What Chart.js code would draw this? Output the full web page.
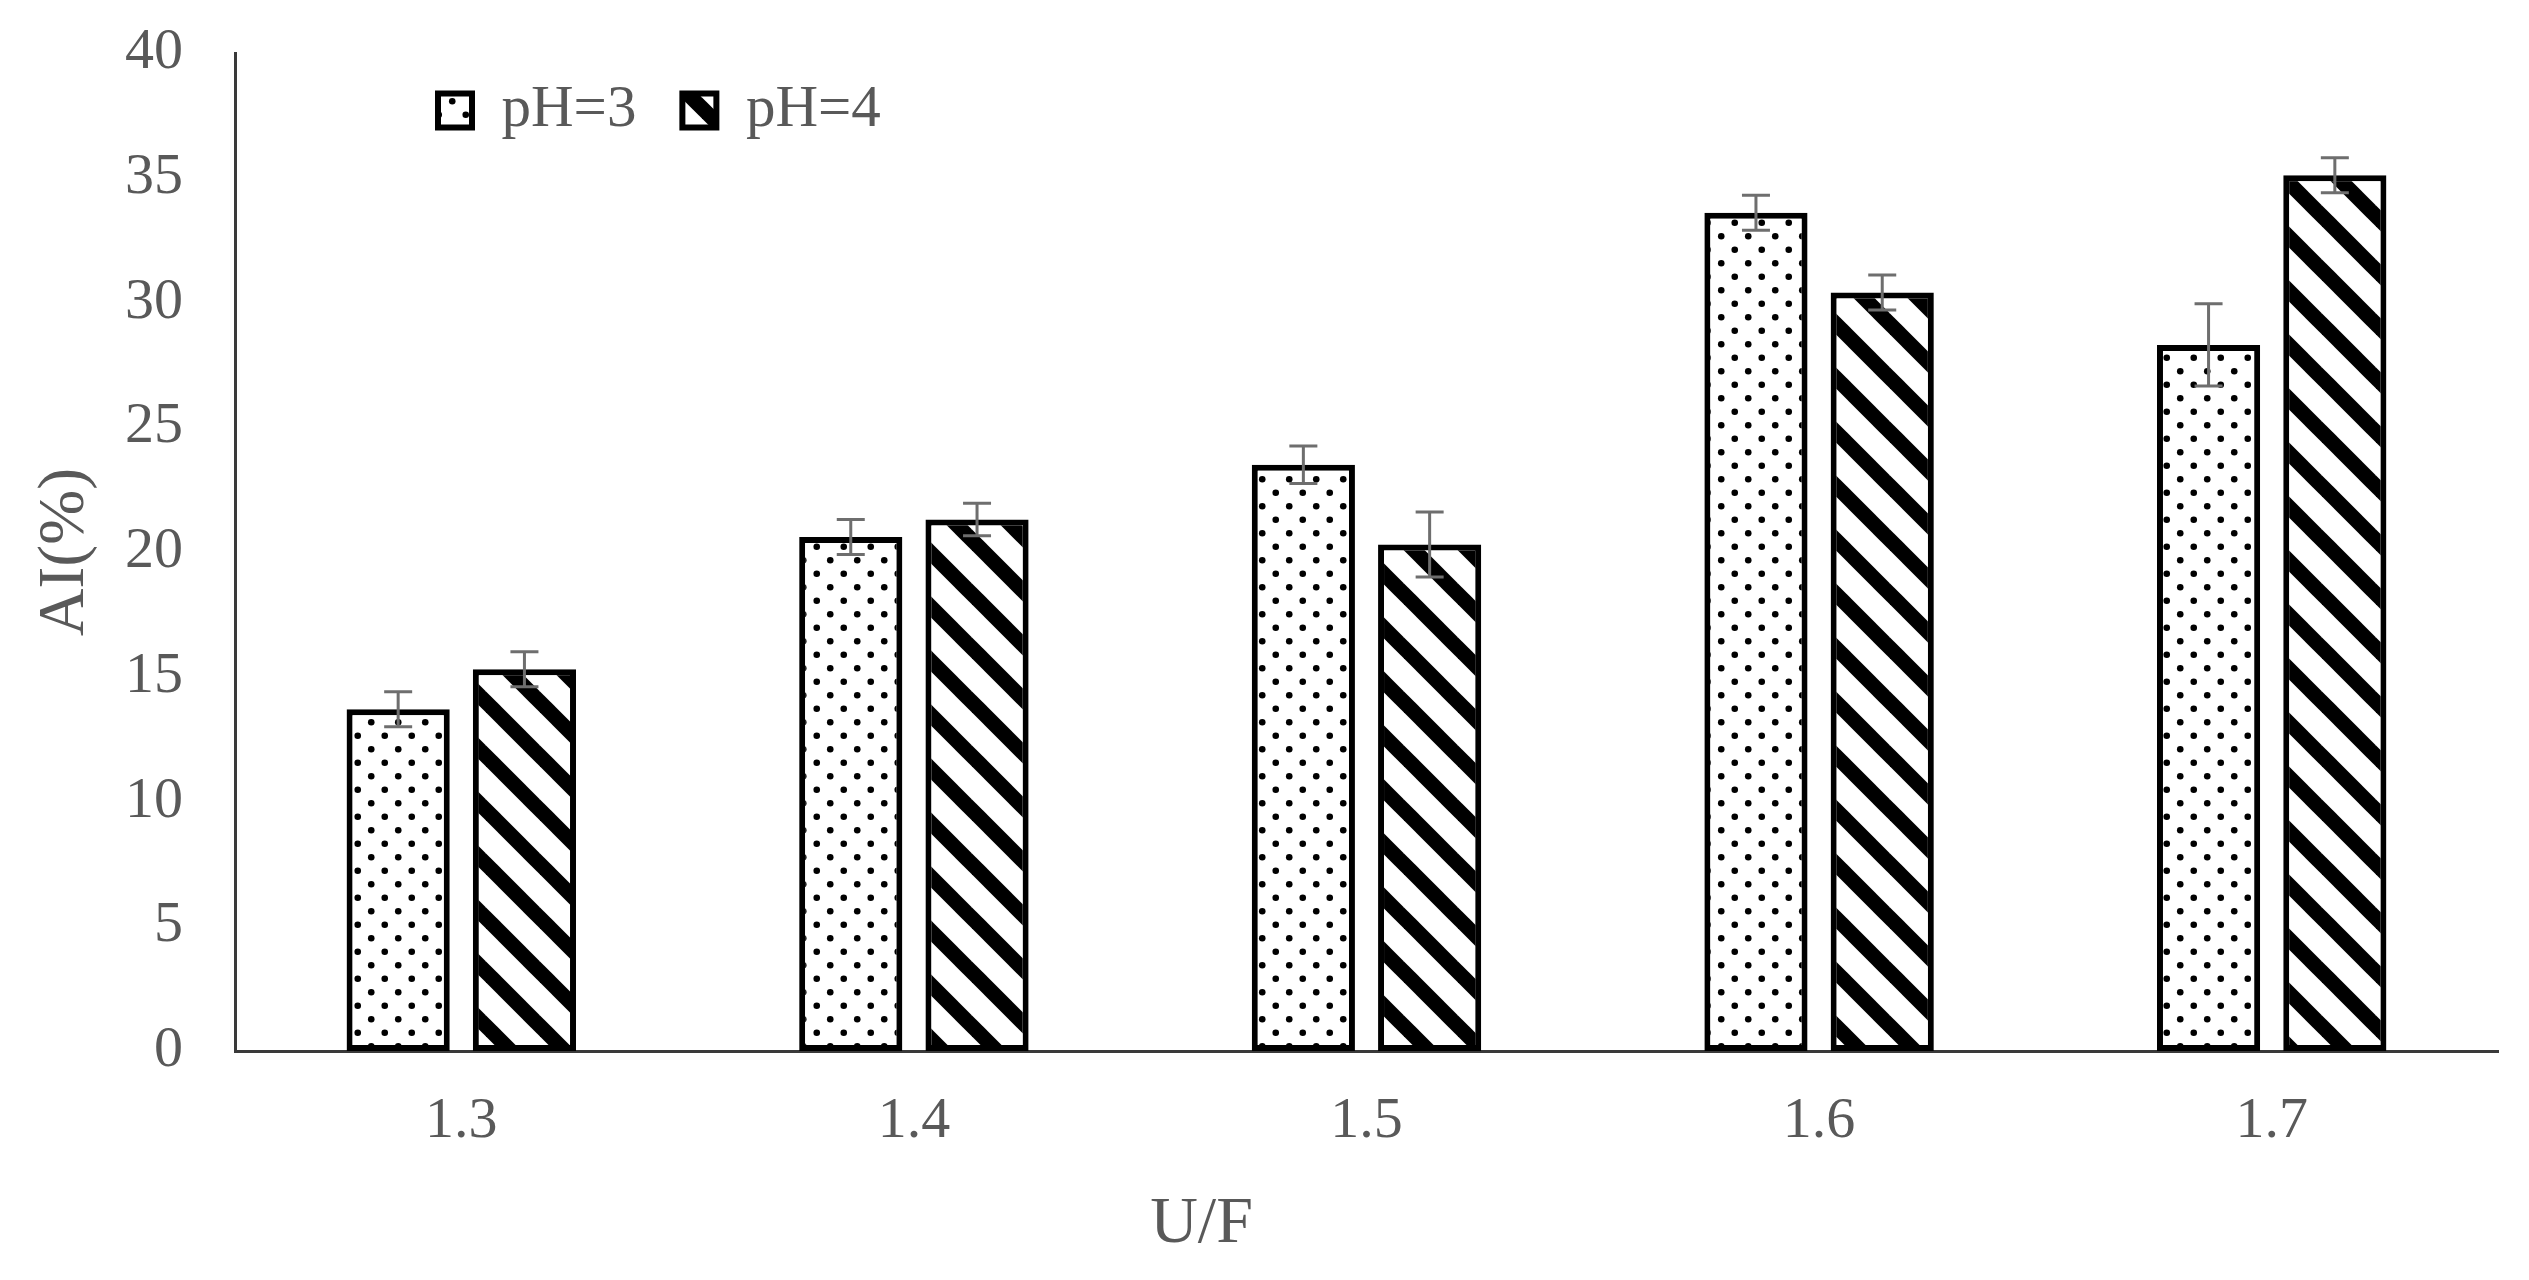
<!DOCTYPE html>
<html>
<head>
<meta charset="utf-8">
<script src="https://cdn.jsdelivr.net/npm/chart.js@4.4.1/dist/chart.umd.min.js"></script>
<style>
  html, body { margin: 0; padding: 0; background: #fff; }
  #wrap { width: 2529px; height: 1280px; }
</style>
</head>
<body>
<div id="wrap"><canvas id="aiChart" width="2529" height="1280"></canvas></div>
<script>
const categories = ['1.3', '1.4', '1.5', '1.6', '1.7'];
const seriesNames = ['pH=3', 'pH=4'];
const ph3Values = [13.7, 20.6, 23.5, 33.6, 28.3];
const ph4Values = [15.3, 21.3, 20.3, 30.4, 35.1];
const ph3Errors = [0.7, 0.7, 0.75, 0.7, 1.65];
const ph4Errors = [0.7, 0.65, 1.3, 0.7, 0.7];
const yTicks = [0, 5, 10, 15, 20, 25, 30, 35, 40];

const textGray = '#595959';
const fontFamily = '"Liberation Serif", "Times New Roman", serif';

// fill patterns like the original (dots / back-slash stripes)
function dotPattern() {
    const c = document.createElement('canvas');
    c.width = 27; c.height = 27;
    const g = c.getContext('2d');
    g.fillStyle = '#fff';
    g.fillRect(0, 0, 27, 27);
    g.fillStyle = '#000';
    [[6.75, 6.75], [20.25, 20.25]].forEach(([x, y]) => {
        g.beginPath();
        g.arc(x, y, 3.3, 0, Math.PI * 2);
        g.fill();
    });
    return g.createPattern(c, 'repeat');
}

function stripePattern() {
    const s = 54;
    const c = document.createElement('canvas');
    c.width = s; c.height = s;
    const g = c.getContext('2d');
    g.fillStyle = '#fff';
    g.fillRect(0, 0, s, s);
    g.strokeStyle = '#000';
    g.lineWidth = 15;
    [-s, 0, s].forEach(off => {
        g.beginPath();
        g.moveTo(off - 20, -20);
        g.lineTo(off + s + 20, s + 20);
        g.stroke();
    });
    return g.createPattern(c, 'repeat');
}

const errorBars = {
    id: 'errorBars',
    afterDatasetsDraw(chart) {
        const ctx = chart.ctx;
        const yScale = chart.scales.y;
        const errs = [ph3Errors, ph4Errors];
        ctx.save();
        ctx.strokeStyle = '#6e6e6e';
        ctx.lineWidth = 3;
        chart.data.datasets.forEach((ds, i) => {
            chart.getDatasetMeta(i).data.forEach((bar, j) => {
                const v = ds.data[j], e = errs[i][j];
                const top = yScale.getPixelForValue(v + e);
                const bot = yScale.getPixelForValue(v - e);
                ctx.beginPath();
                ctx.moveTo(bar.x, top); ctx.lineTo(bar.x, bot);
                ctx.moveTo(bar.x - 14, top); ctx.lineTo(bar.x + 14, top);
                ctx.moveTo(bar.x - 14, bot); ctx.lineTo(bar.x + 14, bot);
                ctx.stroke();
            });
        });
        ctx.restore();
    }
};

// legend floats inside the plot: take no layout space, then place it
const floatLegend = {
    id: 'floatLegend',
    beforeLayout(chart) {
        const lg = chart.legend;
        if (lg && !lg._floating) {
            const fit = lg.fit;
            lg.fit = function () { fit.call(this); this.height = 0; };
            lg._floating = true;
        }
    },
    afterLayout(chart) {
        const lg = chart.legend;
        lg.left = 392;
        lg.top = 35;
        lg.width = 800;
        lg.height = 160;
        lg.right = lg.left + lg.width;
        lg.bottom = lg.top + lg.height;
    }
};

const ctx = document.getElementById('aiChart').getContext('2d');

new Chart(ctx, {
    type: 'bar',
    data: {
        labels: categories,
        datasets: [{
            label: seriesNames[0],
            data: ph3Values,
            backgroundColor: dotPattern(),
            borderColor: '#000',
            borderWidth: 6,
            borderSkipped: false
        }, {
            label: seriesNames[1],
            data: ph4Values,
            backgroundColor: stripePattern(),
            borderColor: '#000',
            borderWidth: 6,
            borderSkipped: false
        }]
    },
    options: {
        responsive: false,
        animation: false,
        devicePixelRatio: 1,
        categoryPercentage: 0.558,
        barPercentage: 0.817,
        layout: { padding: { left: 0, right: 31, top: 53, bottom: 0 } },
        plugins: {
            legend: {
                position: 'top',
                align: 'start',
                labels: {
                    boxWidth: 34,
                    boxHeight: 34,
                    padding: 46,
                    color: textGray,
                    font: { family: fontFamily, size: 59 }
                }
            },
            tooltip: { enabled: false }
        },
        scales: {
            x: {
                grid: { display: false, drawTicks: false },
                border: { display: true, color: '#3a3a3a', width: 3 },
                ticks: { color: textGray, padding: 36, font: { family: fontFamily, size: 58 } },
                title: {
                    display: true,
                    text: 'U/F' + ' '.repeat(20),
                    color: textGray,
                    padding: { top: 0, bottom: 16 },
                    font: { family: fontFamily, size: 66 }
                },
                afterFit: (scale) => { scale.height = 229; }
            },
            y: {
                min: 0,
                max: 40,
                afterBuildTicks: (scale) => { scale.ticks = yTicks.map(v => ({ value: v })); },
                grid: { display: false, drawTicks: false },
                border: { display: true, color: '#3a3a3a', width: 3 },
                ticks: { color: textGray, padding: 52, font: { family: fontFamily, size: 58 } },
                title: {
                    display: true,
                    text: 'AI(%)',
                    color: textGray,
                    padding: { top: 26, bottom: 0 },
                    font: { family: fontFamily, size: 66 }
                },
                afterFit: (scale) => {
                    scale.width = 235;
                    scale.paddingTop = 0;
                    scale.paddingBottom = 0;
                }
            }
        }
    },
    plugins: [errorBars, floatLegend]
});
</script>
</body>
</html>
